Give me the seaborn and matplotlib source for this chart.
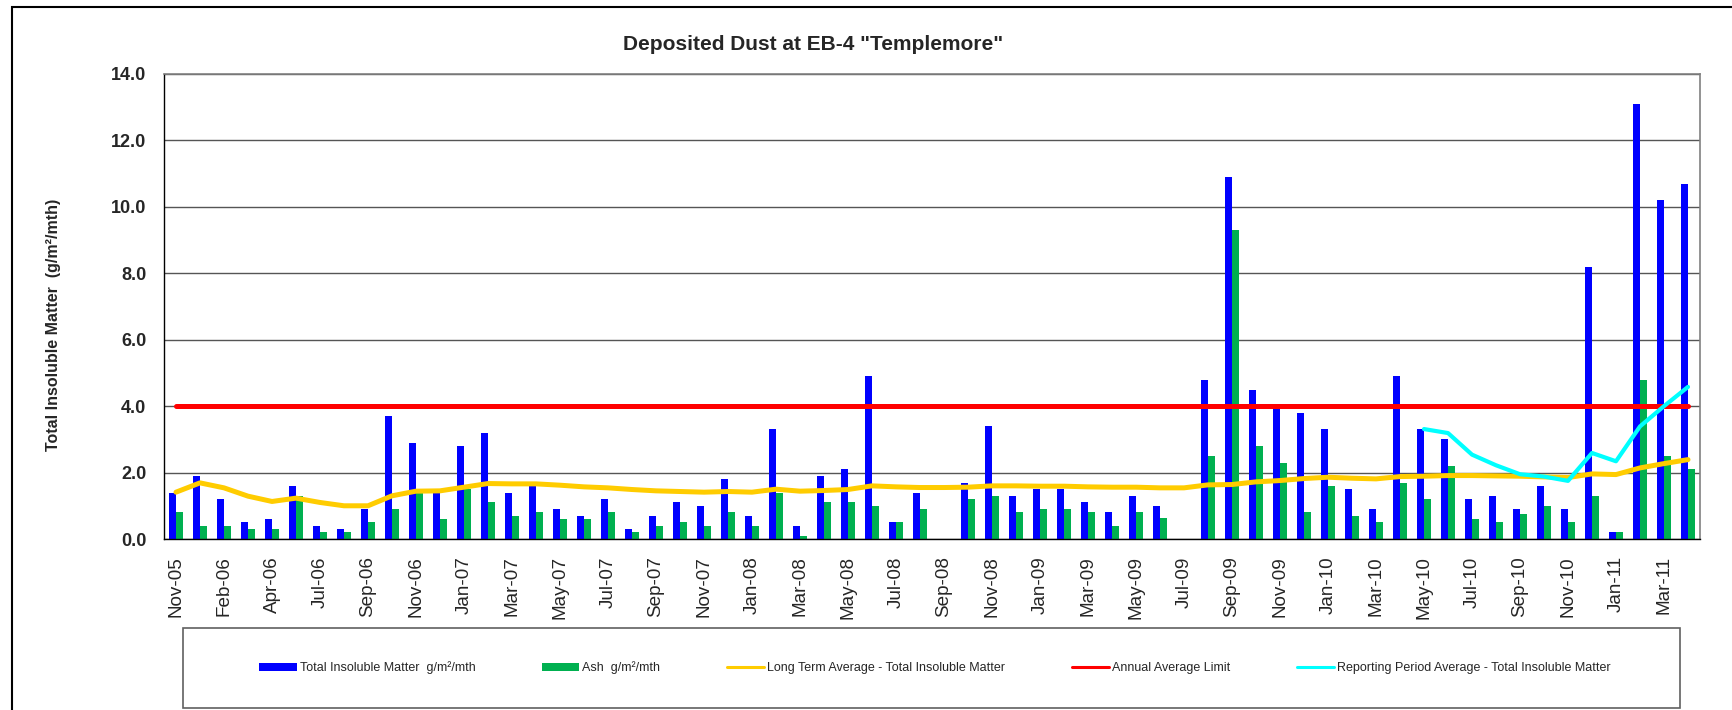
import numpy as np
import pandas as pd
import matplotlib
matplotlib.use('Agg')
import matplotlib.pyplot as plt
from matplotlib.patches import Rectangle, Patch
from matplotlib.lines import Line2D
import seaborn as sns

# meses do grafico (so os pares aparecem no eixo)
months = ['Nov-05', 'Dec-05', 'Feb-06', 'Mar-06', 'Apr-06', 'May-06', 'Jul-06', 'Aug-06',
          'Sep-06', 'Oct-06', 'Nov-06', 'Dec-06',
          'Jan-07', 'Feb-07', 'Mar-07', 'Apr-07', 'May-07', 'Jun-07', 'Jul-07', 'Aug-07',
          'Sep-07', 'Oct-07', 'Nov-07', 'Dec-07',
          'Jan-08', 'Feb-08', 'Mar-08', 'Apr-08', 'May-08', 'Jun-08', 'Jul-08', 'Aug-08',
          'Sep-08', 'Oct-08', 'Nov-08', 'Dec-08',
          'Jan-09', 'Feb-09', 'Mar-09', 'Apr-09', 'May-09', 'Jun-09', 'Jul-09', 'Aug-09',
          'Sep-09', 'Oct-09', 'Nov-09', 'Dec-09',
          'Jan-10', 'Feb-10', 'Mar-10', 'Apr-10', 'May-10', 'Jun-10', 'Jul-10', 'Aug-10',
          'Sep-10', 'Oct-10', 'Nov-10', 'Dec-10',
          'Jan-11', 'Feb-11', 'Mar-11', 'Apr-11']

nan = np.nan
total_insoluble = [1.4, 1.9, 1.2, 0.5, 0.6, 1.6, 0.4, 0.3, 0.9, 3.7, 2.9, 1.5,
                   2.8, 3.2, 1.4, 1.6, 0.9, 0.7, 1.2, 0.3, 0.7, 1.1, 1.0, 1.8,
                   0.7, 3.3, 0.4, 1.9, 2.1, 4.9, 0.5, 1.4, nan, 1.7, 3.4, 1.3,
                   1.5, 1.5, 1.1, 0.8, 1.3, 1.0, nan, 4.8, 10.9, 4.5, 3.9, 3.8,
                   3.3, 1.5, 0.9, 4.9, 3.3, 3.0, 1.2, 1.3, 0.9, 1.6, 0.9, 8.2,
                   0.2, 13.1, 10.2, 10.7]

ash = [0.8, 0.4, 0.4, 0.3, 0.3, 1.3, 0.2, 0.2, 0.5, 0.9, 1.4, 0.6,
       1.5, 1.1, 0.7, 0.8, 0.6, 0.6, 0.8, 0.2, 0.4, 0.5, 0.4, 0.8,
       0.4, 1.4, 0.1, 1.1, 1.1, 1.0, 0.5, 0.9, nan, 1.2, 1.3, 0.8,
       0.9, 0.9, 0.8, 0.4, 0.8, 0.64, nan, 2.5, 9.3, 2.8, 2.3, 0.8,
       1.6, 0.7, 0.5, 1.7, 1.2, 2.2, 0.6, 0.5, 0.75, 1.0, 0.5, 1.3,
       0.2, 4.8, 2.5, 2.1]

long_term_avg = [1.41, 1.69, 1.54, 1.29, 1.13, 1.23, 1.10, 1.00, 1.00, 1.30, 1.44, 1.45,
                 1.56, 1.67, 1.66, 1.66, 1.62, 1.57, 1.54, 1.49, 1.45, 1.43, 1.41, 1.43,
                 1.41, 1.50, 1.44, 1.46, 1.49, 1.60, 1.57, 1.55, 1.55, 1.56, 1.60, 1.60,
                 1.59, 1.59, 1.57, 1.56, 1.56, 1.54, 1.54, 1.63, 1.64, 1.72, 1.76, 1.82,
                 1.86, 1.83, 1.81, 1.88, 1.89, 1.91, 1.91, 1.90, 1.89, 1.87, 1.85, 1.96,
                 1.94, 2.14, 2.27, 2.39]

annual_limit = 4.0

# media do periodo de relatorio (May-10 ate Apr-11)
report_months = months[52:]
report_avg = [3.31, 3.19, 2.54, 2.22, 1.95, 1.88, 1.75, 2.59, 2.34, 3.39, 4.0, 4.58]

serie_total = 'Total Insoluble Matter  g/m\u00b2/mth'
serie_ash = 'Ash  g/m\u00b2/mth'

cor_azul = '#0000FF'
cor_verde = '#00B050'
cor_amarela = '#FFCC00'
cor_vermelha = '#FF0000'
cor_ciano = '#00FFFF'

# tabela longa pro seaborn
tabela = pd.DataFrame({
    'month': months * 2,
    'value': total_insoluble + ash,
    'series': [serie_total] * len(months) + [serie_ash] * len(months),
})

sns.set_style('white')
plt.rcParams['font.family'] = ['Liberation Sans', 'DejaVu Sans']

fig = plt.figure(figsize=(17.33, 7.10), dpi=100)
ax = fig.add_axes([164 / 1733, 171 / 710, 1536 / 1733, 465 / 710])

sns.barplot(data=tabela, x='month', y='value', hue='series', order=months,
            hue_order=[serie_total, serie_ash], palette=[cor_azul, cor_verde],
            width=0.58, saturation=1, errorbar=None, linewidth=0, legend=False, ax=ax)

# linhas de media e limite por cima das barras
pos = np.arange(len(months))
ax.plot(pos, long_term_avg, color=cor_amarela, lw=3.6, solid_capstyle='round',
        solid_joinstyle='round', zorder=4)
ax.plot(pos, [annual_limit] * len(months), color=cor_vermelha, lw=3.6,
        solid_capstyle='round', zorder=4)
ax.plot(pos[52:], report_avg, color=cor_ciano, lw=3.0, solid_capstyle='round',
        solid_joinstyle='round', zorder=5)

# eixo y
ax.set_ylim(0, 14)
ax.set_yticks(np.arange(0, 14.1, 2))
ax.set_yticklabels([f'{v:.1f}' for v in np.arange(0, 14.1, 2)], fontsize=13, fontweight='bold')
ax.tick_params(axis='y', length=4.3, width=1, pad=8.5, color='black')
ax.grid(axis='y', color='#555555', lw=1)
ax.set_axisbelow(True)

# eixo x
ax.set_xlim(-0.5, len(months) - 0.5)
ax.set_xticks(pos[::2])
ax.set_xticklabels(months[::2], rotation=90, fontsize=13.6)
ax.set_xticks(np.arange(-0.5, len(months), 1), minor=True)
ax.tick_params(axis='x', which='major', length=0, pad=12.5)
ax.tick_params(axis='x', which='minor', length=4.3, width=1, color='black')

ax.set_xlabel('')
ax.set_ylabel('Total Insoluble Matter  (g/m\u00b2/mth)', fontsize=11.5, fontweight='bold')
ax.yaxis.set_label_coords(-0.067, 0.46)

for lado in ['left', 'bottom']:
    ax.spines[lado].set_color('black')
    ax.spines[lado].set_linewidth(1)
for lado in ['top', 'right']:
    ax.spines[lado].set_color('#808080')
    ax.spines[lado].set_linewidth(1.2)

fig.text(813 / 1733, 666 / 710, 'Deposited Dust at EB-4 "Templemore"', fontsize=15,
         fontweight='bold', ha='center', va='center')

# moldura do grafico (sai pra fora da imagem)
fig.add_artist(Rectangle((12 / 1733, -0.2), 1.5, 0.2 + 703 / 710, transform=fig.transFigure,
                         fill=False, edgecolor='black', lw=1.5))

# caixa da legenda
fig.add_artist(Rectangle((183 / 1733, 2 / 710), 1497 / 1733, 80 / 710, transform=fig.transFigure,
                         fill=False, edgecolor='#606060', lw=1.2))

itens = [
    Patch(facecolor=cor_azul, edgecolor='none', label=serie_total),
    Patch(facecolor=cor_verde, edgecolor='none', label=serie_ash),
    Line2D([], [], color=cor_amarela, lw=2.2, label='Long Term Average - Total Insoluble Matter'),
    Line2D([], [], color=cor_vermelha, lw=2.2, label='Annual Average Limit'),
    Line2D([], [], color=cor_ciano, lw=2.2, label='Reporting Period Average - Total Insoluble Matter'),
]
fig.legend(handles=itens, loc='center', bbox_to_anchor=(935 / 1733, 42 / 710), ncol=5,
           frameon=False, fontsize=9, handlelength=3.0, handleheight=0.55,
           handletextpad=0.25, columnspacing=5.3)

fig.savefig('out.png', dpi=100)
